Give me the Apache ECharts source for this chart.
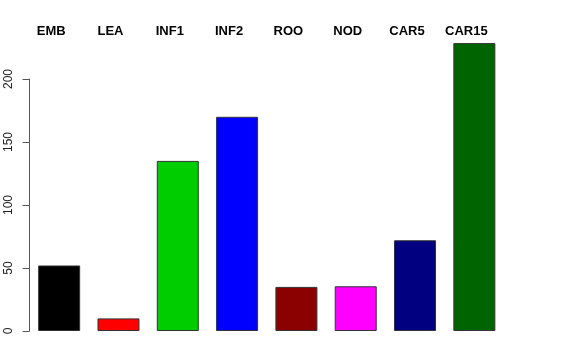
<!DOCTYPE html>
<html><head><meta charset="utf-8">
<script src="https://cdn.jsdelivr.net/npm/echarts@6/dist/echarts.min.js"></script>
<style>html,body{margin:0;padding:0;background:#fff}#c{width:576px;height:360px}</style>
</head><body><div id="c"></div>
<script>
const categories = ["EMB","LEA","INF1","INF2","ROO","NOD","CAR5","CAR15"];
const values = [52, 10, 135, 170, 35, 35.5, 72, 228.5];
const colors = ["#000000","#FF0000","#00CD00","#0000FF","#8B0000","#FF00FF","#000080","#006400"];
const yTicks = [0, 50, 100, 150, 200];

const chart = echarts.init(document.getElementById('c'), null, {renderer:'canvas'});
chart.setOption({
  animation:false,
  grid:{left:29.5, right:72, top:79, bottom:29},
  xAxis:{type:'category', data:categories, position:'top',
    axisLine:{show:false}, axisTick:{show:false},
    axisLabel:{fontFamily:'Liberation Sans', fontWeight:'bold', fontSize:13, color:'#000', margin:41.5,
      padding:[0,16,0,0]}},
  yAxis:{type:'value', min:yTicks[0], max:yTicks[yTicks.length-1], interval:50,
    splitLine:{show:false},
    axisLine:{show:true, lineStyle:{color:'#555', width:1}},
    axisTick:{show:true, length:7, lineStyle:{color:'#555'}},
    axisLabel:{rotate:90, fontFamily:'Liberation Sans', fontSize:12, color:'#222', margin:15}},
  series:[{type:'bar', clip:false, barWidth:42,
    data: values.map((v,i)=>({value:v, itemStyle:{color:colors[i]}})),
    itemStyle:{borderColor:'#333', borderWidth:1}}]
});
</script></body></html>
